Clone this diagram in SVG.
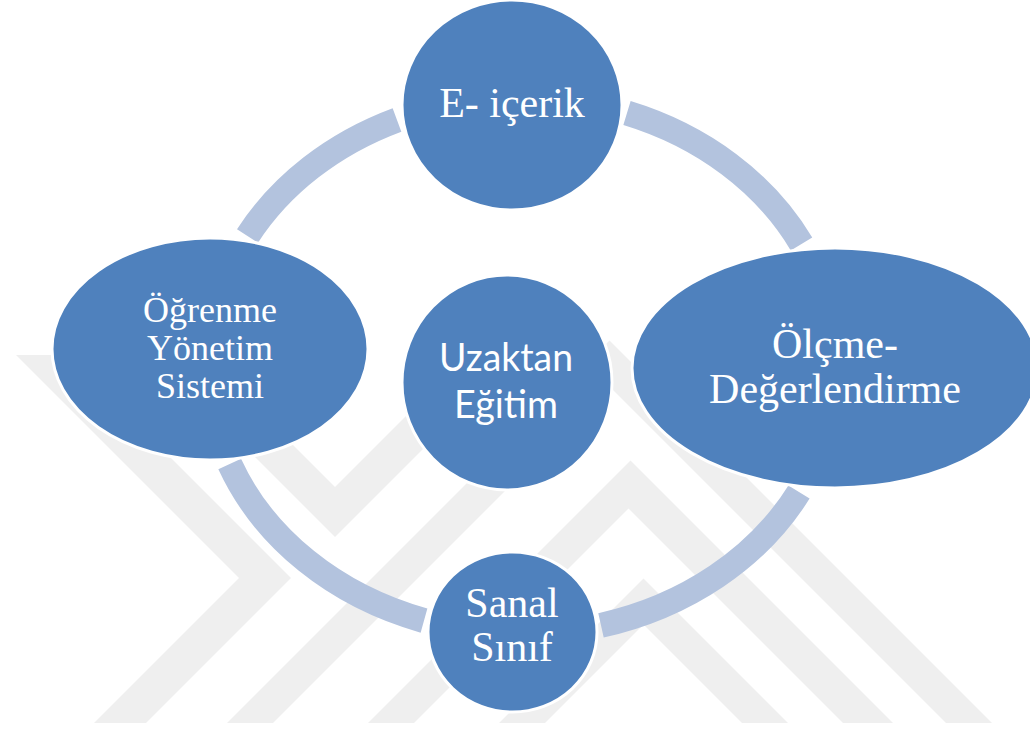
<svg xmlns="http://www.w3.org/2000/svg" width="1030" height="729" viewBox="0 0 1030 729">
<style>
.wm{fill:#efefef;stroke:none}
.ring{fill:none;stroke:#b3c3de;stroke-width:25;stroke-linecap:butt}
.node{fill:#4f81bd;stroke:#ffffff;stroke-width:3}
.ser{font-family:"Liberation Serif","Times New Roman",serif;fill:#ffffff;text-anchor:middle}
.san{font-family:Lato,"Open Sans",sans-serif;fill:#ffffff;text-anchor:middle}
</style>
<rect width="1030" height="729" fill="#ffffff"/>
<g id="watermark">
<polygon class="wm" points="16,355 68,355 291,578 146,723 94,723 239,578"/>
<polygon class="wm" points="198,400 248,400 335,487 422,400 472,400 335,537"/>
<polygon class="wm" points="227,723 273,723 609.5,386.5 946,723 992,723 609.5,340.5"/>
<polygon class="wm" points="368,723 414,723 628.5,508.5 843,723 893,723 630.5,460.5"/>
<polygon class="wm" points="499,723 545,723 643.5,624.5 742,723 788,723 643.5,578.5"/>
</g>
<g id="connectors">
<path class="ring" d="M397,120 A314,268 0 0 0 247.5,236"/>
<path class="ring" d="M627,113 A314,268 0 0 1 801.5,244"/>
<path class="ring" d="M229.7,464 A314,268 0 0 0 424,620.6"/>
<path class="ring" d="M601,625.4 A314,268 0 0 0 799,492"/>
</g>
<g id="node-eicerik">
<ellipse class="node" cx="512" cy="105" rx="110" ry="105"/>
<text class="ser" x="512" y="117" font-size="42">E- içerik</text>
</g>
<g id="node-ogrenme">
<ellipse class="node" cx="210" cy="349" rx="158" ry="111"/>
<text class="ser" x="210" y="322" font-size="36">Öğrenme</text>
<text class="ser" x="210" y="360" font-size="36">Yönetim</text>
<text class="ser" x="210" y="398" font-size="36">Sistemi</text>
</g>
<g id="node-olcme">
<ellipse class="node" cx="835" cy="368" rx="203" ry="120"/>
<text class="ser" x="835" y="358" font-size="42">Ölçme-</text>
<text class="ser" x="835" y="403" font-size="42">Değerlendirme</text>
</g>
<g id="node-sanal">
<ellipse class="node" cx="512.5" cy="632" rx="84.5" ry="80"/>
<text class="ser" x="512" y="617" font-size="42">Sanal</text>
<text class="ser" x="512" y="661" font-size="42">Sınıf</text>
</g>
<g id="node-uzaktan">
<ellipse class="node" cx="507" cy="382.5" rx="105" ry="107.5"/>
<text class="san" x="506" y="371" font-size="38" textLength="134" lengthAdjust="spacingAndGlyphs">Uzaktan</text>
<text class="san" x="506" y="418" font-size="38" textLength="104" lengthAdjust="spacingAndGlyphs">Eğitim</text>
</g>
</svg>
